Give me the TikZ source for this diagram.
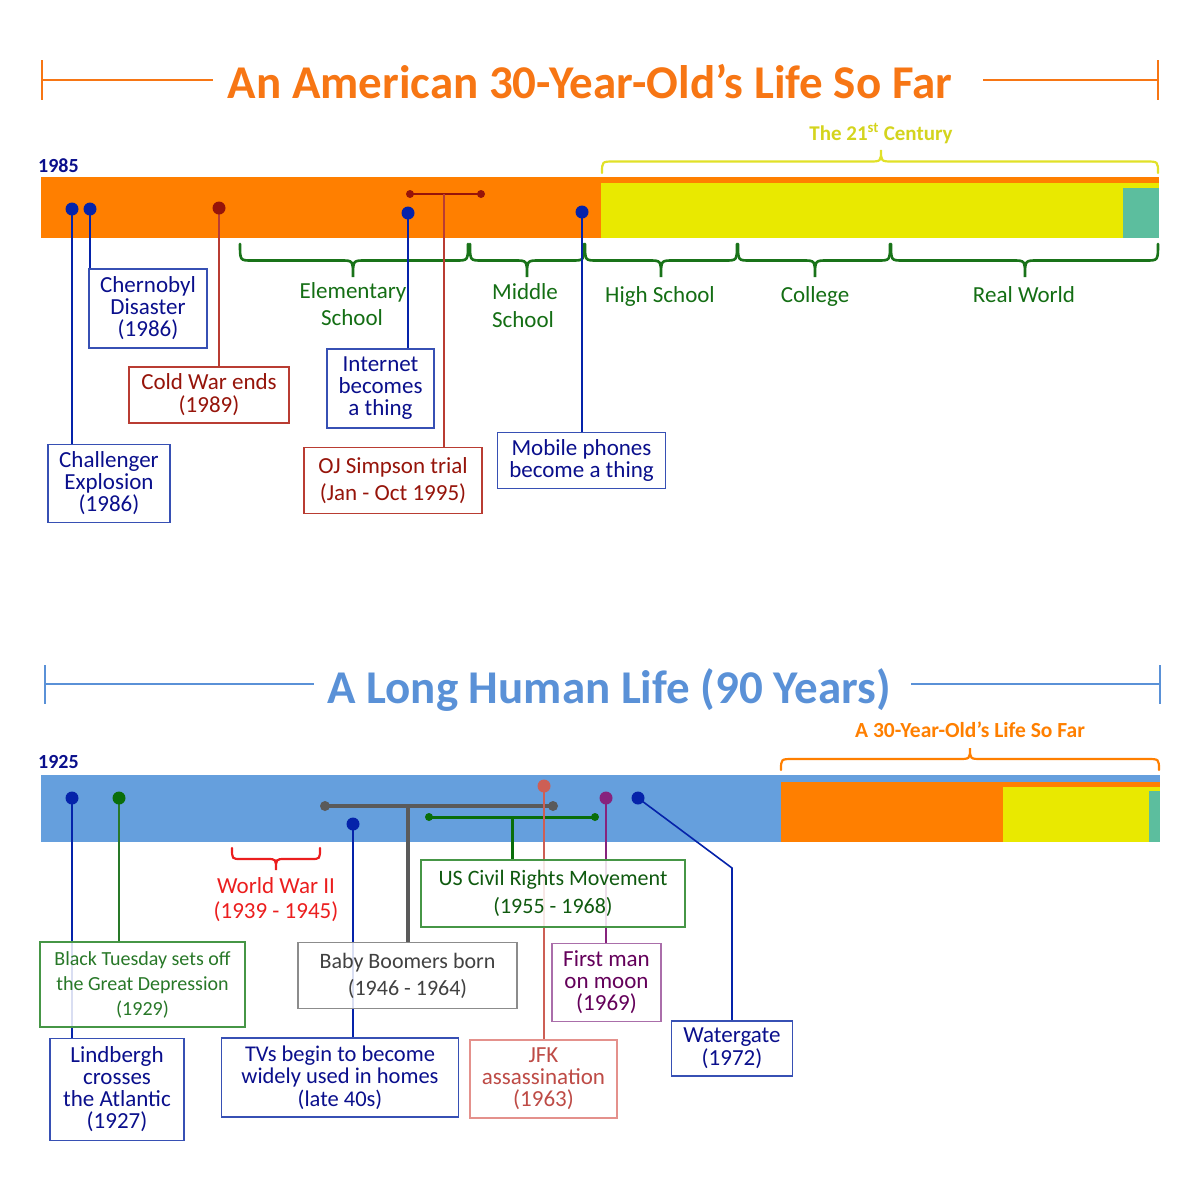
\documentclass[tikz,border=0pt]{standalone}
\usepackage{fontspec}
\setmainfont{Carlito}
\definecolor{orbar}{RGB}{255,127,0}
\definecolor{ttlor}{RGB}{247,118,20}
\definecolor{yel}{RGB}{233,233,0}
\definecolor{tealb}{RGB}{92,190,158}
\definecolor{bluebar}{RGB}{101,159,221}
\definecolor{ttlblue}{RGB}{90,145,215}
\definecolor{navy}{RGB}{10,15,140}
\definecolor{bluebd}{RGB}{55,80,180}
\definecolor{dotblue}{RGB}{5,35,170}
\definecolor{dred}{RGB}{150,20,10}
\definecolor{redbd}{RGB}{185,60,50}
\definecolor{gtext}{RGB}{20,110,20}
\definecolor{gbr}{RGB}{25,115,25}
\definecolor{ytext}{RGB}{212,212,30}
\definecolor{ybr}{RGB}{225,225,40}
\definecolor{wwred}{RGB}{235,30,30}
\definecolor{bttext}{RGB}{40,120,40}
\definecolor{btbd}{RGB}{70,150,70}
\definecolor{crtext}{RGB}{15,90,15}
\definecolor{crline}{RGB}{10,110,10}
\definecolor{gryln}{RGB}{90,90,90}
\definecolor{grytext}{RGB}{65,65,65}
\definecolor{grybd}{RGB}{140,140,140}
\definecolor{jfkln}{RGB}{205,95,85}
\definecolor{jfktext}{RGB}{190,75,70}
\definecolor{jfkbd}{RGB}{228,145,140}
\definecolor{purln}{RGB}{135,35,125}
\definecolor{purtext}{RGB}{100,0,90}
\definecolor{purbd}{RGB}{170,110,170}
\usetikzlibrary{calc}
\pgfdeclarelayer{bg}
\pgfdeclarelayer{ln}
\pgfsetlayers{bg,ln,main}
\newcommand{\mybrace}[7][]{\draw[#1] (#2,#5) .. controls (#2,{#5+#6}) .. ({#2+#7},{#5+#6}) -- ({#4-#7},{#5+#6}) .. controls (#4,{#5+#6}) .. (#4,{#5+2*#6}) .. controls (#4,{#5+#6}) .. ({#4+#7},{#5+#6}) -- ({#3-#7},{#5+#6}) .. controls (#3,{#5+#6}) .. (#3,#5);}
\begin{document}
\begin{tikzpicture}[x=1pt,y=-1pt,
  bx/.style={draw, line width=1.5pt, fill=white, fill opacity=0.85, text opacity=1, align=center, inner sep=0pt},
  f23/.style={font=\fontsize{23}{22}\selectfont},
  dot/.style={circle, inner sep=0pt, minimum size=13pt},
  sdot/.style={circle, inner sep=0pt, minimum size=8pt},
  ln/.style={line width=1.6pt},
  lbl/.style={anchor=base, inner sep=0pt, font=\fontsize{23}{27}\selectfont, text=gtext},
  gbrace/.style={draw=gbr, line width=2.6pt, line cap=round},
]
\useasboundingbox (0,0) rectangle (1199,1200);

% ===== TOP =====
\node[anchor=base, inner sep=0pt, text=ttlor, font=\fontsize{47}{50}\selectfont\bfseries] (t1) at (590,98) {An American 30-Year-Old’s Life So Far};
\draw[ttlor, line width=2pt] (42,60) -- (42,100) (42,80) -- (213,80) (983,80) -- (1158,80) (1158,60) -- (1158,100);

\node[anchor=base west, inner sep=0pt, text=navy, font=\fontsize{20}{22}\selectfont\bfseries] (y1985) at (38,172) {1985};
\node[anchor=base, inner sep=0pt, text=ytext, font=\fontsize{21}{24}\selectfont\bfseries] (c21) at (881,140) {The 21\textsuperscript{st} Century};

\begin{pgfonlayer}{bg}
\fill[orbar] (41,177) rectangle (601,238);
\fill[orbar] (601,177) rectangle (1159,183);
\fill[yel] (601,183) rectangle (1159,238);
\fill[tealb] (1123,188) rectangle (1159,238);
\mybrace[draw=ybr, line width=2.2pt, line cap=round]{602}{1158}{881}{173}{-11.5}{12}
\mybrace[gbrace]{240}{468}{353}{244}{16.5}{12}
\mybrace[gbrace]{470}{584}{527}{244}{16.5}{12}
\mybrace[gbrace]{585}{737}{661}{244}{16.5}{12}
\mybrace[gbrace]{738}{890}{815}{244}{16.5}{12}
\mybrace[gbrace]{891}{1158}{1025}{244}{16.5}{12}
\end{pgfonlayer}

\node[lbl] (el1) at (353,298) {Elementary};
\node[lbl] (el2) at (352,325) {School};
\node[lbl] (ms1) at (525,299) {Middle};
\node[lbl] (ms2) at (523,327) {School};
\node[lbl] (hs) at (660,302) {High School};
\node[lbl] (col) at (815,302) {College};
\node[lbl] (rw) at (1024,302) {Real World};

\node[bx, f23, draw=bluebd, text=navy, minimum width=118pt, minimum height=79pt] (chern) at (148,308.5) {Chernobyl\\Disaster\\(1986)};
\node[bx, f23, draw=bluebd, text=navy, minimum width=122pt, minimum height=78pt] (chall) at (109,483.5) {Challenger\\Explosion\\(1986)};
\node[bx, font=\fontsize{23}{23}\selectfont, draw=redbd, text=dred, minimum width=160pt, minimum height=56pt] (cold) at (209,395) {Cold War ends\\(1989)};
\node[bx, f23, draw=bluebd, text=navy, minimum width=107pt, minimum height=79pt] (inet) at (380.5,388.5) {Internet\\becomes\\a thing};
\node[bx, font=\fontsize{23}{27}\selectfont, draw=redbd, text=dred, minimum width=178pt, minimum height=66pt] (oj) at (393,480.5) {OJ Simpson trial\\(Jan - Oct 1995)};
\node[bx, f23, draw=bluebd, text=navy, minimum width=168pt, minimum height=56pt] (mobile) at (581.5,460.5) {Mobile phones\\become a thing};

\node[dot, fill=dotblue] (dA) at (72,209) {};
\node[dot, fill=dotblue] (dB) at (90,209) {};
\node[dot, fill=dred] (dC) at (219,208) {};
\node[dot, fill=dotblue] (dD) at (408,213) {};
\node[dot, fill=dotblue] (dE) at (582,212) {};
\node[sdot, fill=dred] (ojL) at (410,194) {};
\node[sdot, fill=dred] (ojR) at (481,194) {};
\coordinate (ojM) at (444,194);

\begin{pgfonlayer}{ln}
\draw[ln, dotblue] (dA.center) -- (dA.center |- chall.north);
\draw[ln, dotblue] (dB.center) -- (dB.center |- chern.north);
\draw[ln, redbd] (dC.center) -- (dC.center |- cold.north);
\draw[ln, dotblue] (dD.center) -- (dD.center |- inet.north);
\draw[ln, dotblue] (dE.center) -- (dE.center |- mobile.north);
\draw[ln, dred] (ojL.center) -- (ojR.center);
\draw[ln, redbd] (ojM) -- (ojM |- oj.north);
\end{pgfonlayer}

% ===== BOTTOM =====
\node[anchor=base, inner sep=0pt, text=ttlblue, font=\fontsize{47}{50}\selectfont\bfseries] (t2) at (609,703) {A Long Human Life (90 Years)};
\draw[ttlblue, line width=2pt] (45,665) -- (45,704) (45,684) -- (314,684) (911,684) -- (1160,684) (1160,665) -- (1160,704);

\node[anchor=base west, inner sep=0pt, text=navy, font=\fontsize{20}{22}\selectfont\bfseries] (y1925) at (38,768) {1925};
\node[anchor=base, inner sep=0pt, text=orbar, font=\fontsize{21.5}{24}\selectfont\bfseries] (l30) at (970,737) {A 30-Year-Old’s Life So Far};

\begin{pgfonlayer}{bg}
\fill[bluebar] (41,775) rectangle (1160,842);
\fill[orbar] (781,782) rectangle (1160,842);
\fill[yel] (1003,787) rectangle (1160,842);
\fill[tealb] (1149,791) rectangle (1160,842);
\mybrace[draw=orbar, line width=2.2pt, line cap=round]{781}{1159}{970}{770}{-11}{12}
\mybrace[draw=wwred, line width=2.2pt, line cap=round]{232}{320}{276}{848}{11}{9}
\end{pgfonlayer}

\node[anchor=base, inner sep=0pt, text=wwred, font=\fontsize{23}{25}\selectfont] (ww1) at (276,893) {World War II};
\node[anchor=base, inner sep=0pt, text=wwred, font=\fontsize{23}{25}\selectfont] (ww2) at (276,918) {(1939 - 1945)};

\node[bx, font=\fontsize{20}{25}\selectfont, draw=btbd, text=bttext, minimum width=205pt, minimum height=85pt] (bt) at (142.5,984.5) {Black Tuesday sets off\\the Great Depression\\(1929)};
\node[bx, f23, draw=bluebd, text=navy, minimum width=134pt, minimum height=102pt] (lind) at (117,1089.5) {Lindbergh\\crosses\\the Atlantic\\(1927)};
\node[bx, font=\fontsize{22}{27}\selectfont, draw=grybd, text=grytext, minimum width=219pt, minimum height=66pt] (bb) at (407.5,975.5) {Baby Boomers born\\(1946 - 1964)};
\node[bx, font=\fontsize{22.5}{22.5}\selectfont, draw=bluebd, text=navy, minimum width=237pt, minimum height=79pt] (tv) at (340,1077.5) {TVs begin to become\\widely used in homes\\(late 40s)};
\node[bx, font=\fontsize{22}{28}\selectfont, draw=btbd, text=crtext, minimum width=264pt, minimum height=67pt] (cr) at (553,893.5) {US Civil Rights Movement\\(1955 - 1968)};
\node[bx, f23, draw=purbd, text=purtext, minimum width=109pt, minimum height=78pt] (moon) at (606.5,982.5) {First man\\on moon\\(1969)};
\node[bx, f23, draw=jfkbd, text=jfktext, minimum width=147pt, minimum height=78pt] (jfk) at (543.5,1079) {JFK\\assassination\\(1963)};
\node[bx, font=\fontsize{23}{23}\selectfont, draw=bluebd, text=navy, minimum width=121pt, minimum height=55pt] (wg) at (732,1048.5) {Watergate\\(1972)};

\node[dot, fill=dotblue] (eA) at (72,798) {};
\node[dot, fill=crline] (eB) at (119,798) {};
\node[sdot, fill=gryln, minimum size=10pt] (gL) at (325,806) {};
\node[sdot, fill=gryln, minimum size=10pt] (gR) at (553,806) {};
\coordinate (gM) at (408,806);
\node[dot, fill=dotblue] (eC) at (353,824) {};
\node[sdot, fill=crline] (cL) at (429,817) {};
\node[sdot, fill=crline] (cR) at (595,817) {};
\coordinate (cM) at (512,817);
\node[dot, fill=jfkln] (eD) at (544,786) {};
\node[dot, fill=purln] (eE) at (606,798) {};
\node[dot, fill=dotblue] (eF) at (638,798) {};
\coordinate (wgk) at (732,868);

\begin{pgfonlayer}{ln}
\draw[ln, dotblue] (eA.center) -- (eA.center |- lind.north);
\draw[ln, bttext] (eB.center) -- (eB.center |- bt.north);
\draw[gryln, line width=4pt] (gL.center) -- (gR.center);
\draw[gryln, line width=4pt] (gM) -- (gM |- bb.north);
\draw[ln, dotblue] (eC.center) -- (eC.center |- tv.north);
\draw[crline, line width=3pt] (cL.center) -- (cR.center);
\draw[crline, line width=3pt] (cM) -- (cM |- cr.north);
\draw[ln, jfkln] (eD.center) -- (eD.center |- jfk.north);
\draw[ln, purln] (eE.center) -- (eE.center |- moon.north);
\draw[ln, dotblue] (eF.center) -- (wgk) -- (wg.north);
\end{pgfonlayer}
\end{tikzpicture}
\end{document}
